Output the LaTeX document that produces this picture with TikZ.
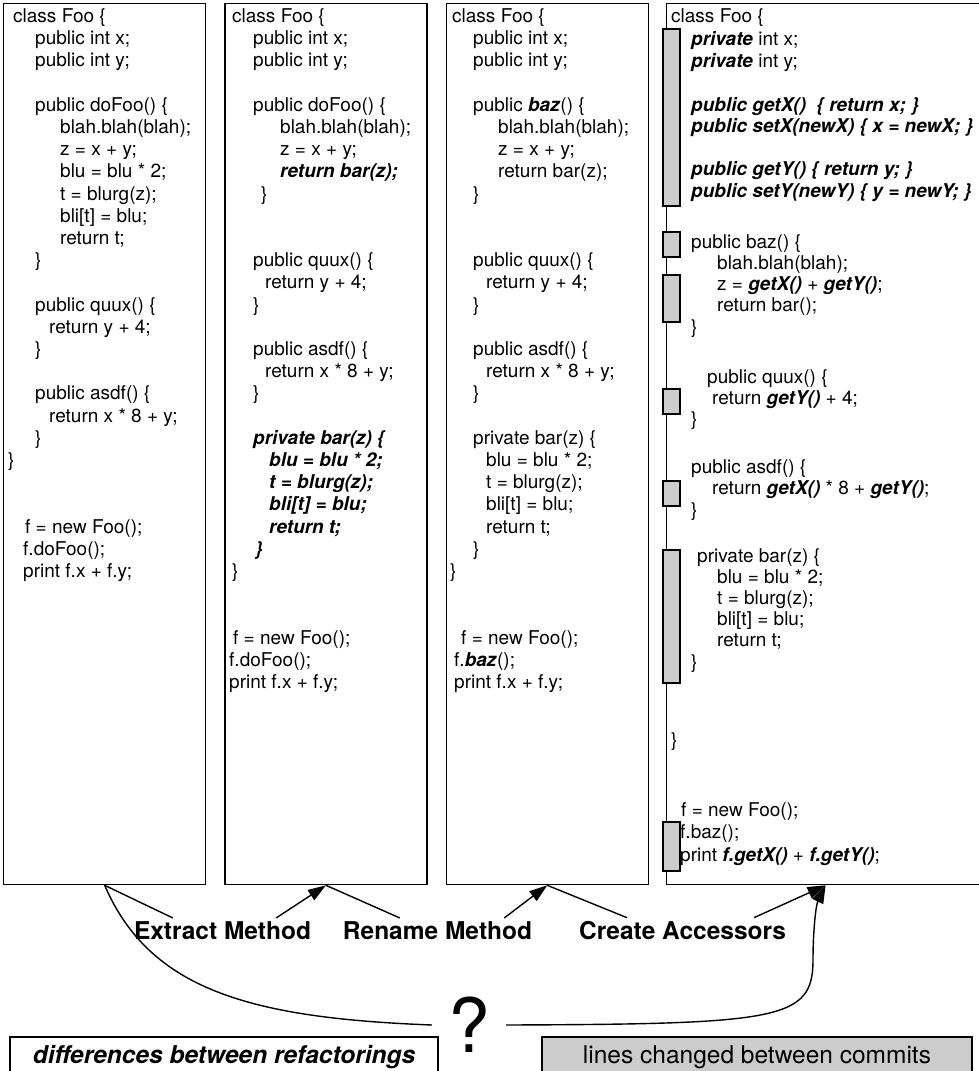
\documentclass[tikz,border=0pt]{standalone}
\usepackage{fontspec}
\setmainfont{TeX Gyre Heros}
\usetikzlibrary{positioning,arrows.meta}

\newcommand{\chg}[1]{\textbf{\textit{#1}}}

\tikzset{
  panel/.style={draw, line width=1.3pt, minimum height=881pt, inner sep=0pt},
  codeline/.style={anchor=base west, inner sep=0pt, font=\fontsize{19}{22}\selectfont},
  refact/.style={anchor=base, inner sep=3pt, font=\fontsize{24.5}{28}\selectfont\bfseries},
  legend/.style={draw, line width=1.3pt, minimum height=40pt, font=\fontsize{24.5}{28}\selectfont},
  changed/.style={draw, line width=1.3pt, fill=black!20},
  link/.style={line width=1.4pt},
  arr/.style={-{Triangle[length=18pt,width=12pt]}}
}

\begin{document}
\begin{tikzpicture}[x=1pt,y=-1pt]
\useasboundingbox (0,0) rectangle (979,1071);

% the four versions of the code
\node[panel, minimum width=202pt, anchor=north west] (p1) at (3,3) {};
\node[panel, minimum width=202pt, right=18pt of p1] (p2) {};
\node[panel, minimum width=202pt, right=18pt of p2] (p3) {};
\node[panel, minimum width=318pt, right=17pt of p3] (p4) {};

% lines changed between commits
\foreach \a/\b in {29/206, 232/257, 275/322, 389/414, 481/506, 550/683, 822/871}
  \draw[changed] (663,\a) rectangle (680,\b);

% original
\foreach \ln/\ind/\txt in {0/10/{class Foo \{}, 1/32/{public int x;}, 2/32/{public int y;},
    4/32/{public doFoo() \{}, 5/57/{blah.blah(blah);}, 6/57/{z = x + y;}, 7/57/{blu = blu * 2;},
    8/57/{t = blurg(z);}, 9/57/{bli[t] = blu;}, 10/57/{return t;}, 11/32/{\}},
    13/32/{public quux() \{}, 14/46/{return y + 4;}, 15/32/{\}},
    17/32/{public asdf() \{}, 18/46/{return x * 8 + y;}, 19/32/{\}}, 20/5/{\}},
    23/22/{f = new Foo();}, 24/20/{f.doFoo();}, 25/20/{print f.x + f.y;}}
  \node[codeline] (a\ln) at ({3+\ind},{22.5+22.2*\ln}) {\txt};

% after extract method
\foreach \ln/\ind/\txt in {0/9/{class Foo \{}, 1/30/{public int x;}, 2/30/{public int y;},
    4/30/{public doFoo() \{}, 5/57/{blah.blah(blah);}, 6/57/{z = x + y;},
    7/57/{\chg{return bar(z);}}, 8/38/{\}},
    11/30/{public quux() \{}, 12/42/{return y + 4;}, 13/30/{\}},
    15/30/{public asdf() \{}, 16/42/{return x * 8 + y;}, 17/30/{\}},
    19/30/{\chg{private bar(z) \{}}, 20/46/{\chg{blu = blu * 2;}}, 21/46/{\chg{t = blurg(z);}},
    22/46/{\chg{bli[t] = blu;}}, 23/46/{\chg{return t;}}, 24/32/{\chg{\}}}, 25/9/{\}},
    28/10/{f = new Foo();}, 29/6/{f.doFoo();}, 30/6/{print f.x + f.y;}}
  \node[codeline] (b\ln) at ({223+\ind},{22.5+22.2*\ln}) {\txt};

% after rename method
\foreach \ln/\ind/\txt in {0/9/{class Foo \{}, 1/30/{public int x;}, 2/30/{public int y;},
    4/30/{public \chg{baz}() \{}, 5/55/{blah.blah(blah);}, 6/55/{z = x + y;},
    7/55/{return bar(z);}, 8/30/{\}},
    11/30/{public quux() \{}, 12/43/{return y + 4;}, 13/30/{\}},
    15/30/{public asdf() \{}, 16/43/{return x * 8 + y;}, 17/30/{\}},
    19/30/{private bar(z) \{}, 20/43/{blu = blu * 2;}, 21/43/{t = blurg(z);},
    22/43/{bli[t] = blu;}, 23/43/{return t;}, 24/30/{\}}, 25/7/{\}},
    28/18/{f = new Foo();}, 29/11/{f.\chg{baz}();}, 30/11/{print f.x + f.y;}}
  \node[codeline] (c\ln) at ({443+\ind},{22.5+22.2*\ln}) {\txt};

% after create accessors
\foreach \y/\ind/\txt in {22.5/9/{class Foo \{}, 45/29/{\chg{private} int x;}, 67/29/{\chg{private} int y;},
    111.5/29/{\chg{public getX()\ \ \{ return x; \}}}, 132.5/29/{\chg{public setX(newX) \{ x = newX; \}}},
    175.5/29/{\chg{public getY() \{ return y; \}}}, 197.5/29/{\chg{public setY(newY) \{ y = newY; \}}},
    248.5/29/{public baz() \{}, 269.5/55/{blah.blah(blah);}, 290.5/55/{z = \chg{getX()} + \chg{getY()};},
    311.5/55/{return bar();}, 333.5/29/{\}},
    383.5/45/{public quux() \{}, 404.5/50/{return \chg{getY()} + 4;}, 425.5/29/{\}},
    473.5/29/{public asdf() \{}, 494.5/50/{return \chg{getX()} * 8 + \chg{getY()};}, 516.5/29/{\}},
    562.5/35/{private bar(z) \{}, 583.5/55/{blu = blu * 2;}, 604.5/55/{t = blurg(z);},
    625.5/55/{bli[t] = blu;}, 646.5/55/{return t;}, 668.5/29/{\}}, 746.5/9/{\}},
    816.5/19/{f = new Foo();}, 838.5/18/{f.baz();}, 861.5/18/{print \chg{f.getX()} + \chg{f.getY()};}}
  \node[codeline] (d\y) at ({662+\ind},\y) {\txt};

% refactorings
\node[refact] (em) at (222.5,939) {Extract Method};
\node[refact] (rm) at (437.5,939) {Rename Method};
\node[refact] (ca) at (682.5,939) {Create Accessors};

\draw[link] (p1.south) -- ([xshift=42pt]em.north west);
\draw[link,arr] ([xshift=-38pt]em.north east) -- (p2.south);
\draw[link] (p2.south) -- ([xshift=60pt]rm.north west);
\draw[link,arr] ([xshift=-31pt]rm.north east) -- (p3.south);
\draw[link] (p3.south) -- ([xshift=51pt]ca.north west);
\draw[link,arr] ([xshift=-35pt]ca.north east) -- (p4.south);

% the question
\node[font=\fontsize{75}{75}\selectfont, inner xsep=16pt, inner ysep=0pt] (q) at (469,1025) {?};
\draw[link] (q.west) .. controls (250,1018) and (150,990) .. (p1.south);
\draw[link,arr] (q.east) .. controls (780,1024) and (813,1020) .. (813,960)
  .. controls (813,930) and (816,905) .. (p4.south);

% legend
\node[legend, minimum width=428pt] (diff) at (224,1057) {\chg{differences between refactorings}};
\node[legend, minimum width=430pt, fill=black!20] (lc) at (757,1057) {lines changed between commits};
\end{tikzpicture}
\end{document}
